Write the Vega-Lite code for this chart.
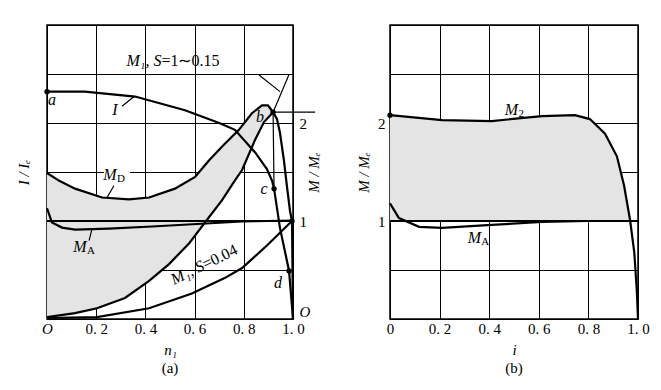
{
  "$schema": "https://vega.github.io/schema/vega-lite/v6.json",
  "padding": {"left": 15, "top": 17, "right": 5, "bottom": 5},
  "bounds": "flush",
  "spacing": 97,
  "config": {
    "font": "Liberation Serif",
    "view": {"stroke": "black", "strokeWidth": 1.5},
    "axis": {
      "labelFont": "Liberation Serif", "titleFont": "Liberation Serif",
      "labelFontSize": 15, "titleFontSize": 15, "titleFontWeight": "normal",
      "labelColor": "black", "titleColor": "black",
      "gridColor": "black", "gridOpacity": 1, "gridWidth": 1,
      "domain": false, "ticks": false, "labelFlush": false, "labelOverlap": false
    },
    "title": {"font": "Liberation Serif", "fontSize": 15, "fontWeight": "normal", "color": "black"}
  },
  "datasets": {
    "regionA": [
      {"x": 0, "top": 1.49, "bot": 0.02},
      {"x": 0.05, "top": 1.41, "bot": 0.035},
      {"x": 0.1, "top": 1.345, "bot": 0.055},
      {"x": 0.15, "top": 1.29, "bot": 0.08},
      {"x": 0.2, "top": 1.25, "bot": 0.11},
      {"x": 0.25, "top": 1.23, "bot": 0.15},
      {"x": 0.3, "top": 1.22, "bot": 0.2},
      {"x": 0.35, "top": 1.22, "bot": 0.27},
      {"x": 0.4, "top": 1.235, "bot": 0.36},
      {"x": 0.45, "top": 1.26, "bot": 0.46},
      {"x": 0.5, "top": 1.31, "bot": 0.57},
      {"x": 0.55, "top": 1.39, "bot": 0.69},
      {"x": 0.6, "top": 1.45, "bot": 0.83},
      {"x": 0.65, "top": 1.6, "bot": 1.01},
      {"x": 0.7, "top": 1.75, "bot": 1.17},
      {"x": 0.75, "top": 1.86, "bot": 1.37},
      {"x": 0.8, "top": 2.0, "bot": 1.56},
      {"x": 0.85, "top": 2.14, "bot": 1.85},
      {"x": 0.88, "top": 2.18, "bot": 2.0},
      {"x": 0.9, "top": 2.17, "bot": 2.07},
      {"x": 0.919, "top": 2.11, "bot": 2.11}
    ],
    "curvesA": [
      {"c": "I", "x": 0, "y": 2.32}, {"c": "I", "x": 0.154, "y": 2.32}, {"c": "I", "x": 0.358, "y": 2.27},
      {"c": "I", "x": 0.561, "y": 2.13}, {"c": "I", "x": 0.7, "y": 2.0}, {"c": "I", "x": 0.764, "y": 1.93},
      {"c": "I", "x": 0.846, "y": 1.7}, {"c": "I", "x": 0.894, "y": 1.53}, {"c": "I", "x": 0.915, "y": 1.41},
      {"c": "I", "x": 0.923, "y": 1.33}, {"c": "I", "x": 0.947, "y": 0.93}, {"c": "I", "x": 0.984, "y": 0.49},
      {"c": "I", "x": 1.0, "y": 0.0},
      {"c": "MD", "x": 0, "y": 1.49}, {"c": "MD", "x": 0.05, "y": 1.41}, {"c": "MD", "x": 0.114, "y": 1.33},
      {"c": "MD", "x": 0.224, "y": 1.24}, {"c": "MD", "x": 0.333, "y": 1.22}, {"c": "MD", "x": 0.415, "y": 1.24},
      {"c": "MD", "x": 0.52, "y": 1.33}, {"c": "MD", "x": 0.602, "y": 1.45}, {"c": "MD", "x": 0.659, "y": 1.62},
      {"c": "MD", "x": 0.72, "y": 1.78}, {"c": "MD", "x": 0.78, "y": 1.93}, {"c": "MD", "x": 0.833, "y": 2.1},
      {"c": "MD", "x": 0.874, "y": 2.18}, {"c": "MD", "x": 0.898, "y": 2.18}, {"c": "MD", "x": 0.919, "y": 2.11},
      {"c": "MD", "x": 0.935, "y": 2.04}, {"c": "MD", "x": 0.947, "y": 1.9}, {"c": "MD", "x": 0.963, "y": 1.62},
      {"c": "MD", "x": 0.976, "y": 1.34}, {"c": "MD", "x": 0.988, "y": 1.1}, {"c": "MD", "x": 0.996, "y": 1.0},
      {"c": "MD", "x": 1.0, "y": 0.0},
      {"c": "L", "x": 0, "y": 0.02}, {"c": "L", "x": 0.114, "y": 0.06}, {"c": "L", "x": 0.203, "y": 0.11},
      {"c": "L", "x": 0.317, "y": 0.215}, {"c": "L", "x": 0.415, "y": 0.39}, {"c": "L", "x": 0.496, "y": 0.56},
      {"c": "L", "x": 0.577, "y": 0.77}, {"c": "L", "x": 0.642, "y": 0.985}, {"c": "L", "x": 0.711, "y": 1.21},
      {"c": "L", "x": 0.764, "y": 1.415}, {"c": "L", "x": 0.793, "y": 1.52}, {"c": "L", "x": 0.846, "y": 1.83},
      {"c": "L", "x": 0.882, "y": 2.01}, {"c": "L", "x": 0.919, "y": 2.11},
      {"c": "MA", "x": 0, "y": 1.13}, {"c": "MA", "x": 0.02, "y": 0.985}, {"c": "MA", "x": 0.061, "y": 0.933},
      {"c": "MA", "x": 0.114, "y": 0.913}, {"c": "MA", "x": 0.252, "y": 0.923}, {"c": "MA", "x": 0.427, "y": 0.944},
      {"c": "MA", "x": 0.793, "y": 0.995}, {"c": "MA", "x": 1.0, "y": 1.005},
      {"c": "S004", "x": 0, "y": 0.01}, {"c": "S004", "x": 0.203, "y": 0.02}, {"c": "S004", "x": 0.415, "y": 0.11},
      {"c": "S004", "x": 0.589, "y": 0.26}, {"c": "S004", "x": 0.724, "y": 0.42}, {"c": "S004", "x": 0.793, "y": 0.52},
      {"c": "S004", "x": 0.894, "y": 0.75}, {"c": "S004", "x": 0.996, "y": 1.0},
      {"c": "one", "x": 0, "y": 1.0}, {"c": "one", "x": 1.0, "y": 1.0}
    ],
    "thinA": [
      {"c": "M1top", "x": 0.983, "y": 2.49}, {"c": "M1top", "x": 0.919, "y": 2.11},
      {"c": "lead1", "x": 0.862, "y": 2.49}, {"c": "lead1", "x": 0.947, "y": 2.32},
      {"c": "bH", "x": 0.919, "y": 2.11}, {"c": "bH", "x": 1.09, "y": 2.11},
      {"c": "bV", "x": 0.919, "y": 2.11}, {"c": "bV", "x": 0.923, "y": 1.33},
      {"c": "leadI", "x": 0.305, "y": 2.17}, {"c": "leadI", "x": 0.354, "y": 2.27},
      {"c": "leadMD", "x": 0.272, "y": 1.36}, {"c": "leadMD", "x": 0.244, "y": 1.24},
      {"c": "leadMA", "x": 0.183, "y": 0.92}, {"c": "leadMA", "x": 0.171, "y": 0.8}
    ],
    "dotsA": [
      {"p": "a", "x": 0, "y": 2.32}, {"p": "b", "x": 0.919, "y": 2.11}, {"p": "c", "x": 0.923, "y": 1.33},
      {"p": "d", "x": 0.984, "y": 0.49}, {"p": "one", "x": 0.996, "y": 1.0}
    ],
    "labelsA": [
      {"t": "a", "x": 0.02, "y": 2.23}, {"t": "I", "x": 0.276, "y": 2.13}, {"t": "b", "x": 0.866, "y": 2.06},
      {"t": "c", "x": 0.882, "y": 1.33}, {"t": "d", "x": 0.939, "y": 0.37},
      {"t": "M", "x": 0.256, "y": 1.47}, {"t": "M", "x": 0.134, "y": 0.73}
    ],
    "subsA": [
      {"t": "D", "x": 0.256, "y": 1.47}, {"t": "A", "x": 0.134, "y": 0.73}
    ],
    "gapA": [
      {"x": 0.232, "x2": 0.337, "y": 1.43, "y2": 1.57}
    ],
    "topLabelA": [
      {"it": "M₁, S", "ro": "=1∼0.15", "x": 0.465, "y": 2.63}
    ],
    "rotLabelA": [
      {"it": "M₁, S", "ro": "=0.04", "x": 0.635, "y": 0.55}
    ],
    "regionB": [
      {"x": 0, "top": 2.08, "bot": 1}, {"x": 0.21, "top": 2.03, "bot": 1}, {"x": 0.41, "top": 2.02, "bot": 1},
      {"x": 0.613, "top": 2.07, "bot": 1}, {"x": 0.746, "top": 2.08, "bot": 1}, {"x": 0.806, "top": 2.04, "bot": 1},
      {"x": 0.867, "top": 1.89, "bot": 1}, {"x": 0.915, "top": 1.66, "bot": 1}, {"x": 0.944, "top": 1.36, "bot": 1},
      {"x": 0.97, "top": 1.0, "bot": 1}
    ],
    "curvesB": [
      {"c": "M2", "x": 0, "y": 2.08}, {"c": "M2", "x": 0.21, "y": 2.03}, {"c": "M2", "x": 0.41, "y": 2.02},
      {"c": "M2", "x": 0.613, "y": 2.07}, {"c": "M2", "x": 0.746, "y": 2.08}, {"c": "M2", "x": 0.806, "y": 2.04},
      {"c": "M2", "x": 0.867, "y": 1.89}, {"c": "M2", "x": 0.915, "y": 1.66}, {"c": "M2", "x": 0.944, "y": 1.36},
      {"c": "M2", "x": 0.968, "y": 1.01}, {"c": "M2", "x": 0.985, "y": 0.68}, {"c": "M2", "x": 0.995, "y": 0.3},
      {"c": "M2", "x": 1.0, "y": 0.0},
      {"c": "MA", "x": 0, "y": 1.18}, {"c": "MA", "x": 0.036, "y": 1.03}, {"c": "MA", "x": 0.117, "y": 0.94},
      {"c": "MA", "x": 0.21, "y": 0.93}, {"c": "MA", "x": 0.41, "y": 0.96}, {"c": "MA", "x": 0.613, "y": 0.99},
      {"c": "MA", "x": 0.8, "y": 1.0}, {"c": "MA", "x": 1.0, "y": 1.0},
      {"c": "one", "x": 0, "y": 1.0}, {"c": "one", "x": 1.0, "y": 1.0}
    ],
    "dotsB": [{"x": 0, "y": 2.08}],
    "labelsB": [{"t": "M", "x": 0.49, "y": 2.13}, {"t": "M", "x": 0.34, "y": 0.83}],
    "subsB": [{"t": "2", "x": 0.49, "y": 2.13}, {"t": "A", "x": 0.34, "y": 0.83}]
  },
  "hconcat": [
    {
      "width": 246,
      "height": 294,
      "title": {"text": "(a)", "orient": "bottom", "offset": 4},
      "resolve": {"axis": {"y": "independent"}},
      "layer": [
        {
          "layer": [
            {
              "data": {"name": "regionA"},
              "mark": {"type": "area", "fill": "#e4e4e4", "strokeWidth": 0},
              "encoding": {
                "x": {"field": "x", "type": "quantitative", "scale": {"domain": [0, 1], "nice": false},
                  "axis": {"values": [0, 0.2, 0.4, 0.6, 0.8, 1], "grid": true, "labelPadding": 2, "titlePadding": 6,
                    "title": "n₁", "titleFontStyle": "italic",
                    "labelExpr": "datum.value == 0 ? 'O' : replace(format(datum.value, '.1f'), '.', '. ')",
                    "labelFontStyle": {"condition": {"test": "datum.value == 0", "value": "italic"}, "value": "normal"}}},
                "y": {"field": "top", "type": "quantitative", "scale": {"domain": [0, 3], "nice": false},
                  "axis": {"orient": "left", "values": [0, 0.5, 1, 1.5, 2, 2.5, 3], "grid": true, "labels": false,
                    "title": "I / Iₑ", "titleFontStyle": "italic", "titlePadding": 16}},
                "y2": {"field": "bot"}
              }
            },
            {
              "data": {"name": "gapA"},
              "mark": {"type": "rect", "fill": "white"},
              "encoding": {
                "x": {"field": "x", "type": "quantitative"}, "x2": {"field": "x2"},
                "y": {"field": "y", "type": "quantitative"}, "y2": {"field": "y2"}
              }
            },
            {
              "data": {"name": "thinA"},
              "mark": {"type": "line", "color": "black", "strokeWidth": 1.2},
              "encoding": {
                "x": {"field": "x", "type": "quantitative"},
                "y": {"field": "y", "type": "quantitative"},
                "detail": {"field": "c"},
                "order": {"value": null}
              }
            },
            {
              "data": {"name": "dotsA"},
              "mark": {"type": "circle", "color": "black", "size": 28, "opacity": 1},
              "encoding": {
                "x": {"field": "x", "type": "quantitative"},
                "y": {"field": "y", "type": "quantitative"}
              }
            },
            {
              "data": {"name": "labelsA"},
              "mark": {"type": "text", "font": "Liberation Serif", "fontSize": 16, "fontStyle": "italic", "baseline": "middle", "color": "black"},
              "encoding": {
                "x": {"field": "x", "type": "quantitative"},
                "y": {"field": "y", "type": "quantitative"},
                "text": {"field": "t"}
              }
            },
            {
              "data": {"name": "subsA"},
              "mark": {"type": "text", "font": "Liberation Serif", "fontSize": 11, "align": "left", "baseline": "middle", "dx": 7, "dy": 4, "color": "black"},
              "encoding": {
                "x": {"field": "x", "type": "quantitative"},
                "y": {"field": "y", "type": "quantitative"},
                "text": {"field": "t"}
              }
            },
            {
              "data": {"name": "topLabelA"},
              "mark": {"type": "text", "font": "Liberation Serif", "fontSize": 16, "fontStyle": "italic", "align": "right", "baseline": "middle", "color": "black"},
              "encoding": {
                "x": {"field": "x", "type": "quantitative"},
                "y": {"field": "y", "type": "quantitative"},
                "text": {"field": "it"}
              }
            },
            {
              "data": {"name": "topLabelA"},
              "mark": {"type": "text", "font": "Liberation Serif", "fontSize": 16, "align": "left", "baseline": "middle", "color": "black"},
              "encoding": {
                "x": {"field": "x", "type": "quantitative"},
                "y": {"field": "y", "type": "quantitative"},
                "text": {"field": "ro"}
              }
            },
            {
              "data": {"name": "rotLabelA"},
              "mark": {"type": "text", "font": "Liberation Serif", "fontSize": 16, "fontStyle": "italic", "align": "right", "baseline": "middle", "angle": 334, "color": "black"},
              "encoding": {
                "x": {"field": "x", "type": "quantitative"},
                "y": {"field": "y", "type": "quantitative"},
                "text": {"field": "it"}
              }
            },
            {
              "data": {"name": "rotLabelA"},
              "mark": {"type": "text", "font": "Liberation Serif", "fontSize": 16, "align": "left", "baseline": "middle", "angle": 334, "color": "black"},
              "encoding": {
                "x": {"field": "x", "type": "quantitative"},
                "y": {"field": "y", "type": "quantitative"},
                "text": {"field": "ro"}
              }
            }
          ]
        },
        {
          "data": {"name": "curvesA"},
          "mark": {"type": "line", "color": "black", "strokeWidth": 2.2},
          "encoding": {
            "x": {"field": "x", "type": "quantitative"},
            "y": {"field": "y", "type": "quantitative",
              "axis": {"orient": "right", "values": [0, 1, 2], "grid": false, "labelPadding": 6,
                "labelExpr": "datum.value == 0 ? 'O' : format(datum.value, 'd')",
                "labelFontStyle": {"condition": {"test": "datum.value == 0", "value": "italic"}, "value": "normal"},
                "labelBaseline": {"condition": {"test": "datum.value == 0", "value": "bottom"}, "value": "middle"},
                "title": "M / Mₑ", "titleFontStyle": "italic", "titleAngle": 270, "titlePadding": 12}},
            "detail": {"field": "c"},
            "order": {"value": null}
          }
        }
      ]
    },
    {
      "width": 248,
      "height": 294,
      "title": {"text": "(b)", "orient": "bottom", "offset": 4},
      "layer": [
        {
          "data": {"name": "regionB"},
          "mark": {"type": "area", "fill": "#e4e4e4", "strokeWidth": 0},
          "encoding": {
            "x": {"field": "x", "type": "quantitative", "scale": {"domain": [0, 1], "nice": false},
              "axis": {"values": [0, 0.2, 0.4, 0.6, 0.8, 1], "grid": true, "labelPadding": 2, "titlePadding": 6,
                "title": "i", "titleFontStyle": "italic",
                "labelExpr": "datum.value == 0 ? '0' : replace(format(datum.value, '.1f'), '.', '. ')"}},
            "y": {"field": "top", "type": "quantitative", "scale": {"domain": [0, 3], "nice": false},
              "axis": {"orient": "left", "values": [0, 0.5, 1, 1.5, 2, 2.5, 3], "grid": true, "labelPadding": 5,
                "labelExpr": "datum.value == 1 || datum.value == 2 ? format(datum.value, 'd') : ''",
                "title": "M / Mₑ", "titleFontStyle": "italic", "titlePadding": 6}},
            "y2": {"field": "bot"}
          }
        },
        {
          "data": {"name": "curvesB"},
          "mark": {"type": "line", "color": "black", "strokeWidth": 2.2},
          "encoding": {
            "x": {"field": "x", "type": "quantitative"},
            "y": {"field": "y", "type": "quantitative"},
            "detail": {"field": "c"},
            "order": {"value": null}
          }
        },
        {
          "data": {"name": "dotsB"},
          "mark": {"type": "circle", "color": "black", "size": 28, "opacity": 1},
          "encoding": {
            "x": {"field": "x", "type": "quantitative"},
            "y": {"field": "y", "type": "quantitative"}
          }
        },
        {
          "data": {"name": "labelsB"},
          "mark": {"type": "text", "font": "Liberation Serif", "fontSize": 16, "fontStyle": "italic", "baseline": "middle", "color": "black"},
          "encoding": {
            "x": {"field": "x", "type": "quantitative"},
            "y": {"field": "y", "type": "quantitative"},
            "text": {"field": "t"}
          }
        },
        {
          "data": {"name": "subsB"},
          "mark": {"type": "text", "font": "Liberation Serif", "fontSize": 11, "align": "left", "baseline": "middle", "dx": 7, "dy": 4, "color": "black"},
          "encoding": {
            "x": {"field": "x", "type": "quantitative"},
            "y": {"field": "y", "type": "quantitative"},
            "text": {"field": "t"}
          }
        }
      ]
    }
  ]
}
